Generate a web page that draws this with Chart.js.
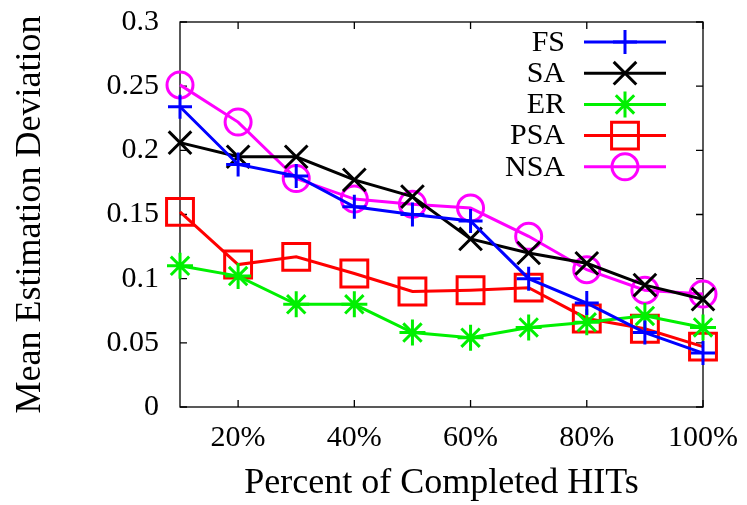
<!DOCTYPE html>
<html>
<head>
<meta charset="utf-8">
<script src="https://cdn.jsdelivr.net/npm/chart.js@4"></script>
<style>
  html, body { margin: 0; padding: 0; background: #fff; }
  #wrap { width: 747px; height: 505px; }
</style>
</head>
<body>
<div id="wrap"><canvas id="grafico" width="747" height="505"></canvas></div>
<script>
// percent of completed HITs
const percentuais = [10, 20, 30, 40, 50, 60, 70, 80, 90, 100];
const ticksX = [20, 40, 60, 80, 100];
const ticksY = [0, 0.05, 0.1, 0.15, 0.2, 0.25, 0.3];
const rotulosY = ['0', '0.05', '0.1', '0.15', '0.2', '0.25', '0.3'];

const fs  = [0.234, 0.189, 0.180, 0.156, 0.150, 0.145, 0.100, 0.081, 0.058, 0.042];
const sa  = [0.206, 0.195, 0.195, 0.177, 0.164, 0.131, 0.120, 0.112, 0.095, 0.084];
const er  = [0.110, 0.102, 0.080, 0.080, 0.058, 0.054, 0.062, 0.066, 0.071, 0.062];
const psa = [0.152, 0.111, 0.117, 0.104, 0.090, 0.091, 0.093, 0.069, 0.061, 0.047];
const nsa = [0.251, 0.222, 0.178, 0.162, 0.158, 0.155, 0.133, 0.107, 0.091, 0.088];

const fonte = '"Liberation Serif", "Times New Roman", serif';

function serie(label, valores, cor, estilo, raio) {
    return {
        label,
        data: percentuais.map((x, i) => ({ x, y: valores[i] })),
        borderColor: cor,
        backgroundColor: 'rgba(0,0,0,0)',
        pointBorderColor: cor,
        pointBackgroundColor: 'rgba(0,0,0,0)',
        borderWidth: 3,
        pointBorderWidth: 3,
        pointStyle: estilo,
        pointRadius: raio,
        pointHoverRadius: raio,
        tension: 0,
        clip: false
    };
}

const datasets = [
    serie('FS', fs, '#0000ff', 'cross', 12),
    serie('SA', sa, '#000000', 'crossRot', 16),
    serie('ER', er, '#00f000', 'star', 13),
    serie('PSA', psa, '#ff0000', 'rect', 19),
    serie('NSA', nsa, '#ff00ff', 'circle', 13)
];

// moldura com ticks para dentro, como no gnuplot
const moldura = {
    id: 'moldura',
    beforeDatasetsDraw(chart) {
        const { ctx, chartArea: a, scales } = chart;
        ctx.save();
        ctx.strokeStyle = '#000';
        ctx.lineWidth = 1.3;
        ctx.strokeRect(a.left, a.top, a.right - a.left, a.bottom - a.top);
        ctx.beginPath();
        ticksX.forEach(v => {
            const px = scales.x.getPixelForValue(v);
            ctx.moveTo(px, a.bottom); ctx.lineTo(px, a.bottom - 7);
            ctx.moveTo(px, a.top); ctx.lineTo(px, a.top + 7);
        });
        ticksY.forEach(v => {
            const py = scales.y.getPixelForValue(v);
            ctx.moveTo(a.left, py); ctx.lineTo(a.left + 7, py);
            ctx.moveTo(a.right, py); ctx.lineTo(a.right - 7, py);
        });
        ctx.stroke();
        ctx.restore();
    }
};

// legenda no canto superior direito
const legenda = {
    id: 'legenda',
    afterDraw(chart) {
        const { ctx } = chart;
        ctx.save();
        ctx.font = '30px ' + fonte;
        ctx.textAlign = 'right';
        ctx.textBaseline = 'middle';
        chart.data.datasets.forEach((ds, i) => {
            const y = 42 + i * 31.2;
            ctx.fillStyle = '#000';
            ctx.fillText(ds.label, 565, y + 1);
            ctx.strokeStyle = ds.borderColor;
            ctx.lineWidth = 3;
            ctx.beginPath();
            ctx.moveTo(584, y); ctx.lineTo(666, y);
            ctx.stroke();
            ctx.fillStyle = 'rgba(0,0,0,0)';
            Chart.helpers.drawPoint(ctx, {
                pointStyle: ds.pointStyle,
                radius: ds.pointRadius,
                rotation: 0,
                borderWidth: 3
            }, 625, y);
        });
        ctx.restore();
    }
};

new Chart(document.getElementById('grafico'), {
    type: 'line',
    data: { datasets },
    options: {
        responsive: false,
        animation: false,
        events: [],
        layout: { padding: { top: 19, right: 44, left: 9, bottom: 0 } },
        plugins: {
            legend: { display: false },
            tooltip: { enabled: false }
        },
        scales: {
            x: {
                type: 'linear',
                min: 10,
                max: 100,
                afterBuildTicks: s => { s.ticks = ticksX.map(v => ({ value: v })); },
                afterFit: s => { s.height = 98; s.paddingLeft = 0; s.paddingRight = 0; },
                grid: { display: false, drawTicks: false },
                border: { display: false },
                ticks: {
                    color: '#000',
                    font: { family: fonte, size: 30 },
                    padding: 13,
                    maxRotation: 0,
                    callback: v => v + '%'
                },
                title: {
                    display: true,
                    text: 'Percent of Completed HITs',
                    color: '#000',
                    font: { family: fonte, size: 36 },
                    padding: { top: 0, bottom: 0 }
                }
            },
            y: {
                min: 0,
                max: 0.3,
                afterBuildTicks: s => { s.ticks = ticksY.map(v => ({ value: v })); },
                afterFit: s => { s.width = 171; s.paddingTop = 0; s.paddingBottom = 0; },
                grid: { display: false, drawTicks: false },
                border: { display: false },
                ticks: {
                    color: '#000',
                    font: { family: fonte, size: 30 },
                    padding: 21,
                    callback: v => rotulosY[ticksY.indexOf(v)] ?? ''
                },
                title: {
                    display: true,
                    text: 'Mean Estimation Deviation',
                    color: '#000',
                    font: { family: fonte, size: 36 },
                    padding: { top: 0, bottom: 0 }
                }
            }
        }
    },
    plugins: [moldura, legenda]
});
</script>
</body>
</html>
